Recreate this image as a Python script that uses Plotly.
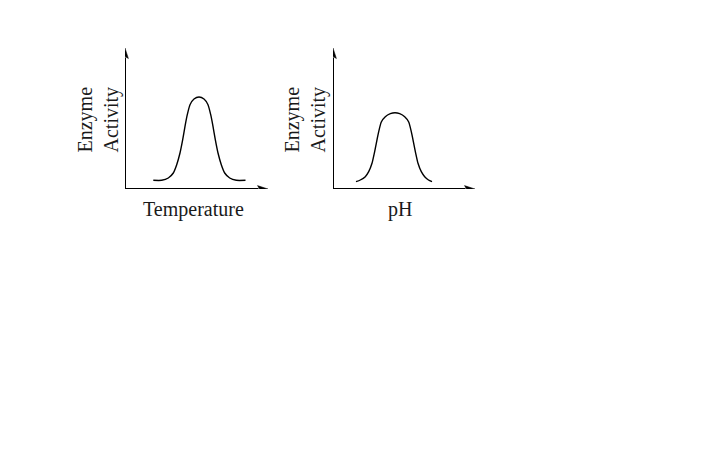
import plotly.graph_objects as go

# Curves (arbitrary units: x along the axis, y = activity above baseline)
temp_x = [28.3, 36.7, 43.3, 48.3, 51.7, 55.0, 57.7, 60.0, 62.3, 65.0, 69.0, 74.0,
          79.0, 83.0, 85.7, 88.0, 90.3, 93.0, 96.3, 99.7, 104.7, 111.3, 120.5]
temp_y = [8.7, 8.7, 11.0, 16.0, 24.3, 36.0, 49.3, 62.7, 74.3, 84.3, 90.0, 92.0,
          90.0, 84.3, 74.3, 62.7, 49.3, 36.0, 24.3, 16.0, 11.0, 8.7, 8.7]

ph_x = [23.0, 27.3, 32.3, 35.7, 39.0, 41.3, 43.3, 45.7, 48.3, 52.3, 57.3, 62.0,
        66.7, 71.7, 75.7, 78.3, 80.7, 82.7, 85.0, 88.3, 91.7, 95.5, 99.0]
ph_y = [7.3, 9.0, 12.3, 17.3, 25.7, 35.7, 45.7, 57.3, 67.0, 72.3, 75.3, 76.3,
        75.3, 72.3, 67.0, 57.3, 45.7, 35.7, 25.7, 17.3, 12.3, 9.0, 7.3]

x_labels = ["Temperature", "pH"]
y_label = "Enzyme<br>Activity"
x_max = [143, 142]
y_max = 141

W, H = 720, 450
FONT = "Liberation Serif"
INK = "#1a1a1a"

def pxx(p):
    return p / W

def pxy(q):
    return 1 - q / H

fig = go.Figure()

panels = [
    dict(xa="x", ya="y", cx=temp_x, cy=temp_y, lab=x_labels[0], labx=193, ylx=98.5, xm=x_max[0]),
    dict(xa="x2", ya="y2", cx=ph_x, cy=ph_y, lab=x_labels[1], labx=400, ylx=305.5, xm=x_max[1]),
]

HEAD_LEN, HEAD_HALF, NOTCH = 10.5, 3.4, 2.0

for p in panels:
    xm = p["xm"]
    # curve
    fig.add_trace(go.Scatter(x=p["cx"], y=p["cy"], xaxis=p["xa"], yaxis=p["ya"], mode="lines",
                             line=dict(color="black", width=1.4, shape="spline", smoothing=0.6),
                             hoverinfo="skip", showlegend=False))
    # axis lines
    fig.add_trace(go.Scatter(x=[0, 0], y=[-1, y_max - HEAD_LEN + 1], xaxis=p["xa"], yaxis=p["ya"],
                             mode="lines", line=dict(color="black", width=2),
                             hoverinfo="skip", showlegend=False))
    fig.add_trace(go.Scatter(x=[-1, xm - HEAD_LEN + 1], y=[0, 0], xaxis=p["xa"], yaxis=p["ya"],
                             mode="lines", line=dict(color="black", width=2),
                             hoverinfo="skip", showlegend=False))
    # arrowheads
    fig.add_trace(go.Scatter(
        x=[0, -HEAD_HALF, 0, HEAD_HALF, 0],
        y=[y_max, y_max - HEAD_LEN, y_max - HEAD_LEN + NOTCH, y_max - HEAD_LEN, y_max],
        xaxis=p["xa"], yaxis=p["ya"], mode="lines", fill="toself", fillcolor="black",
        line=dict(color="black", width=0.5), hoverinfo="skip", showlegend=False))
    fig.add_trace(go.Scatter(
        x=[xm, xm - HEAD_LEN, xm - HEAD_LEN + NOTCH, xm - HEAD_LEN, xm],
        y=[0, HEAD_HALF, 0, -HEAD_HALF, 0],
        xaxis=p["xa"], yaxis=p["ya"], mode="lines", fill="toself", fillcolor="black",
        line=dict(color="black", width=0.5), hoverinfo="skip", showlegend=False))
    # x label
    fig.add_annotation(text=p["lab"], x=pxx(p["labx"]), y=pxy(209),
                       xref="paper", yref="paper", showarrow=False,
                       xanchor="center", yanchor="middle",
                       font=dict(family=FONT, size=20, color=INK))
    # y label (two lines, rotated)
    fig.add_annotation(text=y_label, x=pxx(p["ylx"]), y=pxy(120),
                       xref="paper", yref="paper", showarrow=False,
                       textangle=-90, xanchor="center", yanchor="middle",
                       font=dict(family=FONT, size=20, color=INK))

common = dict(visible=False, fixedrange=True)
fig.update_layout(
    width=W, height=H,
    margin=dict(l=0, r=0, t=0, b=0),
    paper_bgcolor="white", plot_bgcolor="white",
    xaxis=dict(domain=[pxx(125), pxx(268)], range=[0, x_max[0]], anchor="y", **common),
    yaxis=dict(domain=[pxy(189), pxy(48)], range=[0, y_max], anchor="x", **common),
    xaxis2=dict(domain=[pxx(333), pxx(475)], range=[0, x_max[1]], anchor="y2", **common),
    yaxis2=dict(domain=[pxy(189), pxy(48)], range=[0, y_max], anchor="x2", **common),
    showlegend=False,
)

fig.write_html("out.html")
